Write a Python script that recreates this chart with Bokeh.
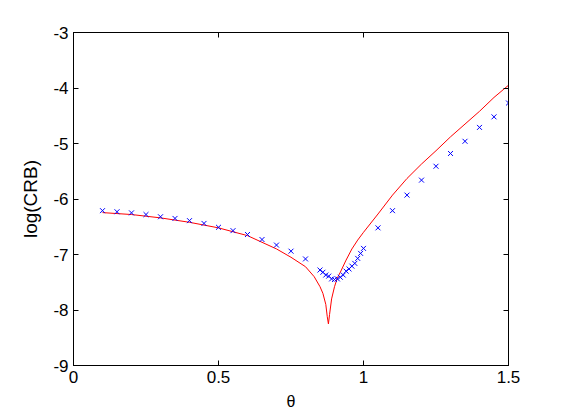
from bokeh.plotting import figure
from bokeh.models import Range1d, FixedTicker, LinearAxis
from bokeh.embed import file_html
from bokeh.resources import INLINE

# Markers (blue x): theta and log(CRB)
theta_pts = [0.10, 0.15, 0.20, 0.25, 0.30, 0.35, 0.40, 0.45, 0.50, 0.55, 0.60, 0.65, 0.70, 0.75, 0.80,
             0.85, 0.86, 0.87, 0.88, 0.89, 0.90, 0.91, 0.92, 0.93, 0.94, 0.95, 0.96, 0.97, 0.98, 0.99, 1.00,
             1.05, 1.10, 1.15, 1.20, 1.25, 1.30, 1.35, 1.40, 1.45, 1.50]
crb_pts = [-6.21, -6.23, -6.25, -6.28, -6.32, -6.35, -6.39, -6.44, -6.51, -6.57, -6.64, -6.73, -6.83, -6.94, -7.08,
           -7.28, -7.32, -7.37, -7.39, -7.44, -7.45, -7.44, -7.41, -7.37, -7.30, -7.26, -7.21, -7.16, -7.07, -6.98, -6.89,
           -6.52, -6.21, -5.93, -5.66, -5.41, -5.18, -4.96, -4.71, -4.52, -4.27]

# Red curve
theta_line = [0.10, 0.20, 0.30, 0.40, 0.50, 0.60, 0.65, 0.70, 0.75, 0.80, 0.83, 0.85, 0.86, 0.87, 0.875,
              0.879, 0.883, 0.89, 0.90, 0.91, 0.92, 0.94, 0.96, 0.98, 1.00, 1.05, 1.10, 1.15, 1.20, 1.25,
              1.30, 1.35, 1.40, 1.45, 1.50]
crb_line = [-6.245, -6.28, -6.34, -6.42, -6.52, -6.66, -6.78, -6.90, -7.05, -7.22, -7.40, -7.58, -7.70, -7.90, -8.12,
            -8.25, -8.08, -7.80, -7.58, -7.42, -7.32, -7.10, -6.90, -6.74, -6.60, -6.27, -5.93, -5.63, -5.37, -5.13,
            -4.88, -4.65, -4.42, -4.17, -3.95]

x_ticks = [0, 0.5, 1, 1.5]
x_labels = ["0", "0.5", "1", "1.5"]
y_ticks = [-9, -8, -7, -6, -5, -4, -3]
y_labels = ["-9", "-8", "-7", "-6", "-5", "-4", "-3"]

FONT = "Liberation Sans"

p = figure(width=553, height=412, output_backend="svg", toolbar_location=None,
           x_range=Range1d(0, 1.5), y_range=Range1d(-9, -3),
           x_axis_label="θ", y_axis_label="log(CRB)",
           min_border_left=73, min_border_right=45, min_border_top=32, min_border_bottom=44)
p.xgrid.visible = False
p.ygrid.visible = False
p.outline_line_color = "black"
p.outline_line_width = 1
p.background_fill_color = "white"
p.border_fill_color = "white"

def style(ax, ticks, labels, show):
    ax.ticker = FixedTicker(ticks=ticks)
    ax.major_label_overrides = {t: (l if show else "") for t, l in zip(ticks, labels)}
    ax.major_tick_in = 5
    ax.major_tick_out = 0
    ax.minor_tick_in = 0
    ax.minor_tick_out = 0
    ax.axis_line_color = "black"
    ax.major_tick_line_color = "black"
    ax.major_label_text_font = FONT
    ax.major_label_text_font_size = "17px"
    ax.major_label_text_color = "black"
    ax.axis_label_text_font = FONT
    ax.axis_label_text_font_size = "19px"
    ax.axis_label_text_font_style = "normal"
    ax.axis_label_text_color = "black"

style(p.xaxis[0], x_ticks, x_labels, True)
style(p.yaxis[0], y_ticks, y_labels, True)
p.xaxis[0].major_label_standoff = 5
p.xaxis[0].axis_label_standoff = 7
p.xaxis[0].axis_label_text_font_size = "16px"
p.yaxis[0].major_label_standoff = 5
p.yaxis[0].axis_label_standoff = 9

top = LinearAxis()
style(top, x_ticks, x_labels, False)
top.major_label_standoff = 0
p.add_layout(top, "above")
right = LinearAxis()
style(right, y_ticks, y_labels, False)
right.major_label_standoff = 0
p.add_layout(right, "right")

p.line(theta_line, crb_line, line_color="#ff0000", line_width=1)
p.scatter(theta_pts, crb_pts, marker="x", size=7, line_color="#0000ff", line_width=1)

open("out.html", "w").write(file_html(p, INLINE))
